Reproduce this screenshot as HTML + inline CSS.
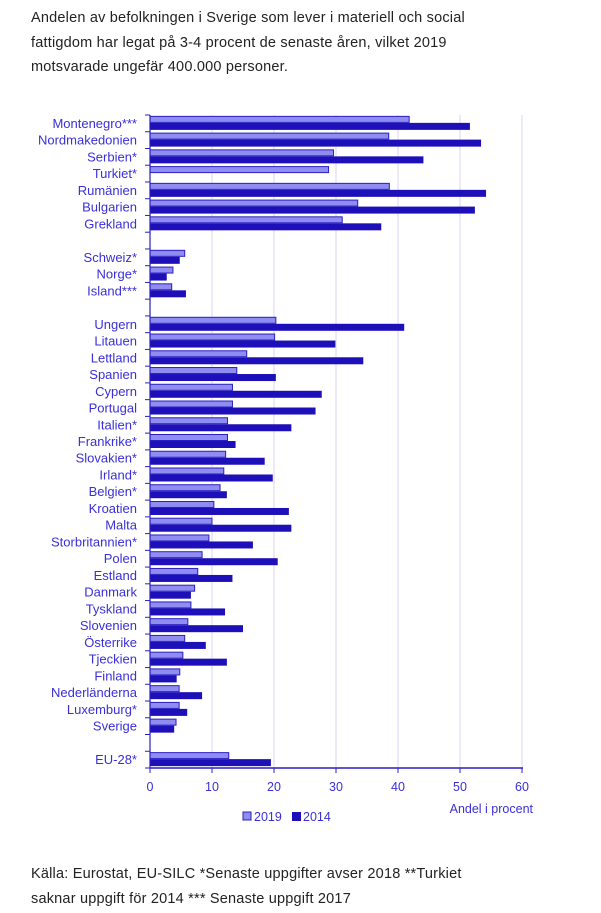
<!DOCTYPE html>
<html><head><meta charset="utf-8"><style>
html,body{margin:0;padding:0;background:#fff;width:601px;height:913px;overflow:hidden}
.t{position:absolute;left:31px;font-family:"Liberation Sans",sans-serif;font-size:14.5px;color:#222;line-height:24.5px;letter-spacing:0.2px}
svg{position:absolute;left:0;top:0}
</style></head><body>
<div class="t" style="top:6px">Andelen av befolkningen i Sverige som lever i materiell och social<br>fattigdom har legat på 3-4 procent de senaste åren, vilket 2019<br>motsvarade ungefär 400.000 personer.</div>
<div class="t" style="top:862px">Källa: Eurostat, EU-SILC *Senaste uppgifter avser 2018 **Turkiet<br>saknar uppgift för 2014 *** Senaste uppgift 2017</div>
<svg id="s" width="601" height="913" xmlns="http://www.w3.org/2000/svg" font-family="Liberation Sans, sans-serif"></svg>
<script>
(function(){
var d=[["Montenegro***",41.8,51.6],["Nordmakedonien",38.5,53.4],["Serbien*",29.6,44.1],["Turkiet*",28.8,null],["Rumänien",38.6,54.2],["Bulgarien",33.5,52.4],["Grekland",31.0,37.3],null,
["Schweiz*",5.6,4.8],["Norge*",3.7,2.7],["Island***",3.5,5.8],null,
["Ungern",20.3,41.0],["Litauen",20.1,29.9],["Lettland",15.6,34.4],["Spanien",14.0,20.3],["Cypern",13.3,27.7],["Portugal",13.3,26.7],["Italien*",12.5,22.8],["Frankrike*",12.5,13.8],["Slovakien*",12.2,18.5],["Irland*",11.9,19.8],["Belgien*",11.3,12.4],["Kroatien",10.3,22.4],["Malta",10.0,22.8],["Storbritannien*",9.5,16.6],["Polen",8.4,20.6],["Estland",7.7,13.3],["Danmark",7.2,6.6],["Tyskland ",6.6,12.1],["Slovenien",6.1,15.0],["Österrike",5.6,9.0],["Tjeckien",5.3,12.4],["Finland",4.8,4.3],["Nederländerna",4.7,8.4],["Luxemburg*",4.7,6.0],["Sverige",4.2,3.9],null,["EU-28*",12.7,19.5]];
var x0=150,sc=(522-150)/60,T=115,B=768,h=(B-T)/d.length,o='';
for(var g=10;g<=60;g+=10){var x=x0+g*sc;o+='<line x1="'+x+'" y1="'+T+'" x2="'+x+'" y2="'+B+'" stroke="#d8d6f4" stroke-width="1"/>';}
d.forEach(function(r,i){var c=T+h*(i+0.5);
 if(r){o+='<text x="137" y="'+(c+4.5)+'" text-anchor="end" font-size="13" fill="#3a2fd8">'+r[0]+'</text>';
 o+='<rect x="'+x0+'" y="'+(c-7)+'" width="'+(r[1]*sc)+'" height="6" fill="#8f8cf2" stroke="#2a1fc0" stroke-width="1"/>';
 if(r[2]!=null)o+='<rect x="'+x0+'" y="'+(c-0.5)+'" width="'+(r[2]*sc)+'" height="7" fill="#1d10b8"/>';}
});
for(var i=0;i<=d.length;i++){var y=T+h*i;o+='<line x1="145" y1="'+y+'" x2="150" y2="'+y+'" stroke="#2a1fc0"/>';}
o+='<line x1="150" y1="'+T+'" x2="150" y2="'+B+'" stroke="#2a1fc0" stroke-width="1.2"/>';
o+='<line x1="150" y1="'+B+'" x2="523" y2="'+B+'" stroke="#2a1fc0" stroke-width="1.5"/>';
for(var g=0;g<=60;g+=10){var x=x0+g*sc;o+='<line x1="'+x+'" y1="'+B+'" x2="'+x+'" y2="'+(B+5)+'" stroke="#2a1fc0"/><text x="'+x+'" y="791" text-anchor="middle" font-size="12.5" fill="#3a2fd8">'+g+'</text>';}
o+='<text x="533" y="813" text-anchor="end" font-size="12.5" fill="#3a2fd8">Andel i procent</text>';
o+='<rect x="243" y="812" width="8" height="8" fill="#8f8cf2" stroke="#2a1fc0"/><text x="254" y="821" font-size="12.5" fill="#3a2fd8">2019</text>';
o+='<rect x="292" y="812" width="9" height="9" fill="#1d10b8"/><text x="303" y="821" font-size="12.5" fill="#3a2fd8">2014</text>';
document.getElementById('s').innerHTML=o;
})();
</script>
</body></html>
